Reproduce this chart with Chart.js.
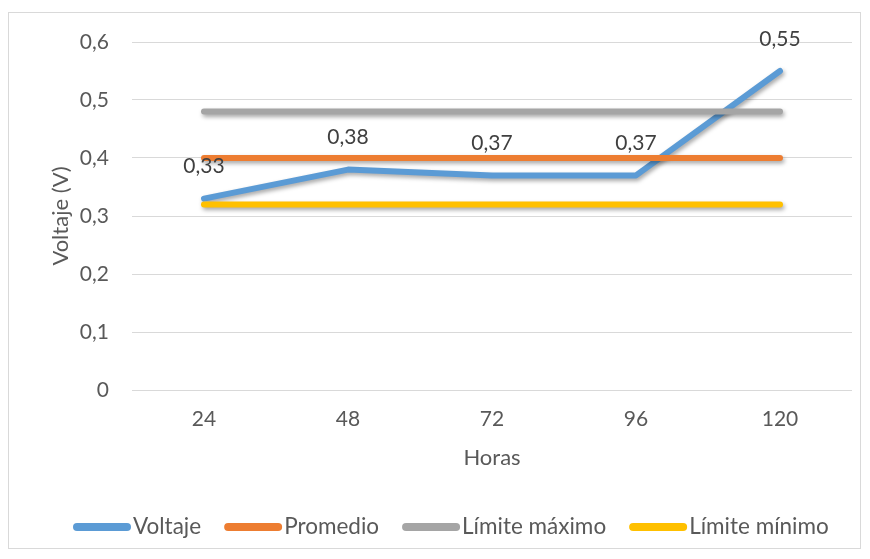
<!DOCTYPE html>
<html>
<head>
<meta charset="utf-8">
<title>Voltaje</title>
<script src="https://cdn.jsdelivr.net/npm/chart.js@4/dist/chart.umd.min.js"></script>
<style>
  html, body { margin: 0; padding: 0; background: #fff; }
  canvas { display: block; }
</style>
</head>
<body>
<canvas id="chart" width="870" height="559"></canvas>
<script>
// horas de medición
var horas = ['24', '48', '72', '96', '120'];
// series en voltios
var voltaje = [0.33, 0.38, 0.37, 0.37, 0.55];
var promedio = [0.40, 0.40, 0.40, 0.40, 0.40];
var limiteMax = [0.48, 0.48, 0.48, 0.48, 0.48];
var limiteMin = [0.32, 0.32, 0.32, 0.32, 0.32];
var yTicks = [0, 0.1, 0.2, 0.3, 0.4, 0.5, 0.6];

var fuente = 'Lato, "Open Sans", sans-serif';
var gris = '#595959';

function coma(v, dec) {
  if (v === 0) return '0';
  return v.toFixed(dec).replace('.', ',');
}

// marco exterior
var marco = {
  id: 'marco',
  beforeDraw: function(chart) {
    var ctx = chart.ctx;
    ctx.save();
    ctx.fillStyle = '#fff';
    ctx.fillRect(0, 0, chart.width, chart.height);
    ctx.strokeStyle = '#d9d9d9';
    ctx.lineWidth = 1;
    ctx.strokeRect(8.5, 12.5, 852, 536);
    ctx.restore();
  }
};

// sombra suave bajo las líneas
var sombra = {
  id: 'sombra',
  beforeDatasetsDraw: function(chart) {
    var ctx = chart.ctx;
    ctx.save();
    ctx.shadowColor = 'rgba(0,0,0,0.35)';
    ctx.shadowBlur = 4;
    ctx.shadowOffsetX = 1.5;
    ctx.shadowOffsetY = 2.5;
  },
  afterDatasetsDraw: function(chart) {
    chart.ctx.restore();
  }
};

// etiquetas de valor sobre la serie Voltaje
var etiquetas = {
  id: 'etiquetas',
  afterDatasetsDraw: function(chart) {
    var ctx = chart.ctx;
    var meta = chart.getDatasetMeta(0);
    ctx.save();
    ctx.font = '21px ' + fuente;
    ctx.fillStyle = '#404040';
    ctx.textAlign = 'center';
    ctx.textBaseline = 'middle';
    meta.data.forEach(function(p, i) {
      ctx.fillText(coma(voltaje[i], 2), p.x, p.y - 32);
    });
    ctx.restore();
  }
};

// leyenda abajo, con muestras de línea redondeadas
var leyenda = {
  id: 'leyenda',
  afterDraw: function(chart) {
    var ctx = chart.ctx;
    var x = 73, y = 527;
    ctx.save();
    ctx.font = '22.5px ' + fuente;
    ctx.textBaseline = 'middle';
    chart.data.datasets.forEach(function(ds) {
      ctx.strokeStyle = ds.borderColor;
      ctx.lineWidth = 8;
      ctx.lineCap = 'round';
      ctx.beginPath();
      ctx.moveTo(x + 4, y);
      ctx.lineTo(x + 54, y);
      ctx.stroke();
      ctx.fillStyle = gris;
      ctx.fillText(ds.label, x + 60, y);
      x += 60 + ctx.measureText(ds.label).width + 23;
    });
    ctx.restore();
  }
};

function serie(label, data, color, orden) {
  return {
    label: label,
    data: data,
    borderColor: color,
    backgroundColor: color,
    borderWidth: 6,
    borderCapStyle: 'round',
    borderJoinStyle: 'round',
    pointRadius: 0,
    pointHoverRadius: 0,
    tension: 0,
    fill: false,
    order: orden
  };
}

new Chart(document.getElementById('chart'), {
  type: 'line',
  data: {
    labels: horas,
    datasets: [
      serie('Voltaje', voltaje, '#5b9bd5', 3),
      serie('Promedio', promedio, '#ed7d31', 2),
      serie('Límite máximo', limiteMax, '#a5a5a5', 1),
      serie('Límite mínimo', limiteMin, '#ffc000', 0)
    ]
  },
  options: {
    responsive: false,
    animation: false,
    layout: { padding: { left: 8, right: 18, top: 42, bottom: 88 } },
    plugins: {
      legend: { display: false },
      tooltip: { enabled: false }
    },
    scales: {
      x: {
        offset: true,
        grid: { display: false, drawTicks: false },
        border: { display: false },
        ticks: { color: gris, font: { family: fuente, size: 21 }, padding: 17 },
        title: { display: true, text: 'Horas', color: gris, font: { family: fuente, size: 22 }, padding: { top: 0, bottom: 0 } },
        afterFit: function(s) { s.height = 81; }
      },
      y: {
        min: 0,
        max: 0.6,
        afterBuildTicks: function(s) {
          s.ticks = yTicks.map(function(v) { return { value: v }; });
        },
        grid: { color: '#d9d9d9', drawTicks: false },
        border: { display: false },
        ticks: {
          color: gris,
          font: { family: fuente, size: 21 },
          padding: 23,
          callback: function(v) { return coma(v, 1); }
        },
        title: { display: true, text: 'Voltaje (V)', color: gris, font: { family: fuente, size: 22 }, padding: { top: 40, bottom: 0 } },
        afterFit: function(s) { s.width = 124; }
      }
    }
  },
  plugins: [marco, sombra, etiquetas, leyenda]
});
</script>
</body>
</html>
